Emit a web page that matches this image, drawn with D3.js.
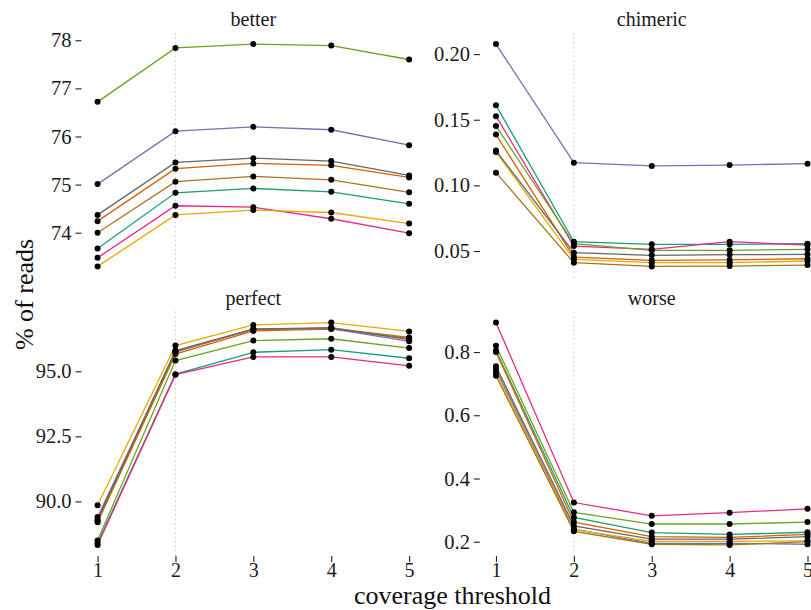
<!DOCTYPE html>
<html>
<head>
<meta charset="utf-8">
<script src="https://cdn.jsdelivr.net/npm/d3@7"></script>
<style>
html,body{margin:0;padding:0;background:#fff;overflow:hidden;}
svg{display:block;}
svg text{font-family:'Liberation Serif','Times New Roman',Times,'DejaVu Serif',serif !important;}
</style>
</head>
<body>
<svg id="chart" width="811" height="610"></svg>
<script>
const thresholds = [1, 2, 3, 4, 5];
const seriesNames = ["A", "B", "C", "D", "E", "F", "G", "H"];
const seriesColors = ["#1B9E77", "#D95F02", "#7570B3", "#E7298A", "#66A61E", "#E6AB02", "#A6761D", "#666666"];
const facetNames = ["better", "chimeric", "perfect", "worse"];

// values per series (order as seriesNames), per threshold 1..5
const betterValues = [
  [73.67, 74.83, 74.92, 74.85, 74.60],
  [74.24, 75.33, 75.44, 75.40, 75.15],
  [75.01, 76.11, 76.20, 76.14, 75.82],
  [73.48, 74.56, 74.53, 74.29, 73.99],
  [76.72, 77.84, 77.92, 77.89, 77.60],
  [73.30, 74.37, 74.47, 74.42, 74.19],
  [74.00, 75.06, 75.17, 75.10, 74.84],
  [74.37, 75.46, 75.55, 75.49, 75.19]
];
const chimericValues = [
  [0.1610, 0.0571, 0.0551, 0.0551, 0.0556],
  [0.1387, 0.0454, 0.0429, 0.0432, 0.0441],
  [0.2076, 0.1173, 0.1148, 0.1155, 0.1165],
  [0.1527, 0.0538, 0.0513, 0.0571, 0.0546],
  [0.1453, 0.0556, 0.0505, 0.0505, 0.0513],
  [0.1255, 0.0437, 0.0411, 0.0411, 0.0424],
  [0.1097, 0.0411, 0.0383, 0.0385, 0.0393],
  [0.1265, 0.0487, 0.0467, 0.0472, 0.0475]
];
const perfectValues = [
  [88.40, 94.89, 95.73, 95.83, 95.50],
  [89.20, 95.66, 96.55, 96.62, 96.27],
  [89.40, 95.74, 96.63, 96.64, 96.15],
  [88.33, 94.87, 95.55, 95.55, 95.21],
  [88.50, 95.41, 96.18, 96.25, 95.89],
  [89.85, 95.99, 96.78, 96.87, 96.53],
  [89.25, 95.77, 96.60, 96.66, 96.30],
  [89.30, 95.80, 96.62, 96.68, 96.22]
];
const worseValues = [
  [0.805, 0.277, 0.229, 0.223, 0.230],
  [0.800, 0.262, 0.216, 0.214, 0.223],
  [0.745, 0.240, 0.195, 0.195, 0.192],
  [0.893, 0.324, 0.282, 0.292, 0.304],
  [0.820, 0.293, 0.256, 0.256, 0.262],
  [0.735, 0.238, 0.201, 0.201, 0.203],
  [0.725, 0.233, 0.192, 0.190, 0.200],
  [0.755, 0.250, 0.208, 0.208, 0.216]
];
const betterTicks = [74, 75, 76, 77, 78];
const chimericTicks = [0.05, 0.10, 0.15, 0.20];
const perfectTicks = [90.0, 92.5, 95.0];
const worseTicks = [0.2, 0.4, 0.6, 0.8];
const markerX = 2;

const facetData = {better: betterValues, chimeric: chimericValues, perfect: perfectValues, worse: worseValues};
const facetTicks = {better: betterTicks, chimeric: chimericTicks, perfect: perfectTicks, worse: worseTicks};
const facetFormat = {better: d3.format("d"), chimeric: d3.format(".2f"), perfect: d3.format(".1f"), worse: d3.format(".1f")};

const FONT = "'Liberation Serif','Times New Roman',Times,'DejaVu Serif',serif";
const svg = d3.select("#chart");
const colLeft = [82, 480.4];
const panelW = 342.7;
const rowTop = [33, 311.5];
const panelH = 244.5;

const xDomain = (() => { const e = d3.extent(thresholds); const p = (e[1]-e[0])*0.05; return [e[0]-p, e[1]+p]; })();

facetNames.forEach((name, i) => {
  const col = i % 2, row = Math.floor(i / 2);
  const x0 = colLeft[col], y0 = rowTop[row];
  const g = svg.append("g").attr("transform", `translate(${x0},${y0})`);
  const vals = facetData[name];
  const all = vals.flat();
  const ext = d3.extent(all);
  const pad = (ext[1]-ext[0])*0.05;
  const x = d3.scaleLinear().domain(xDomain).range([0, panelW]);
  const y = d3.scaleLinear().domain([ext[0]-pad, ext[1]+pad]).range([panelH, 0]);

  // strip title
  g.append("text").attr("x", panelW/2).attr("y", -7).attr("text-anchor", "middle")
    .attr("font-family", FONT).attr("font-size", 20).attr("fill", "#1a1a1a").text(name);

  // dotted marker line
  g.append("line").attr("x1", x(markerX)).attr("x2", x(markerX)).attr("y1", 0).attr("y2", panelH)
    .attr("stroke", "#c8c8c8").attr("stroke-width", 1).attr("stroke-dasharray", "1.5,3");

  // y axis
  const yAxis = d3.axisLeft(y).tickValues(facetTicks[name]).tickFormat(facetFormat[name])
    .tickSizeInner(6).tickSizeOuter(0).tickPadding(4);
  const ya = g.append("g").attr("transform", "translate(-0.5,0)").call(yAxis).attr("font-family", FONT);
  ya.select(".domain").remove();
  ya.selectAll(".tick line").attr("stroke", "#222").attr("stroke-width", 1.1);
  ya.selectAll(".tick text").attr("font-size", 20.5).attr("fill", "#1a1a1a").attr("font-family", FONT);

  if (row === 1) {
    const xAxis = d3.axisBottom(x).tickValues(thresholds).tickFormat(d3.format("d"))
      .tickSizeInner(6).tickSizeOuter(0).tickPadding(1);
    const xa = g.append("g").attr("transform", `translate(0,${panelH})`).call(xAxis).attr("font-family", FONT);
    xa.select(".domain").remove();
    xa.selectAll(".tick line").attr("stroke", "#222").attr("stroke-width", 1.1);
    xa.selectAll(".tick text").attr("font-size", 20).attr("fill", "#1a1a1a").attr("font-family", FONT);
  }

  const line = d3.line().x((d, j) => x(thresholds[j])).y(d => y(d));
  vals.forEach((s, k) => {
    g.append("path").datum(s).attr("d", line).attr("fill", "none")
      .attr("stroke", seriesColors[k]).attr("stroke-width", 1.3);
  });
  vals.forEach((s, k) => {
    g.selectAll(null).data(s).enter().append("circle")
      .attr("cx", (d, j) => x(thresholds[j])).attr("cy", d => y(d)).attr("r", 3).attr("fill", "#000");
  });
});

// axis titles
svg.append("text").attr("x", (colLeft[0] + colLeft[1] + panelW) / 2).attr("y", 604)
  .attr("text-anchor", "middle").attr("font-family", FONT).attr("font-size", 26).attr("fill", "#111").text("coverage threshold");
svg.append("text").attr("transform", `translate(32.5,${(rowTop[0] + rowTop[1] + panelH) / 2}) rotate(-90)`)
  .attr("text-anchor", "middle").attr("font-family", FONT).attr("font-size", 26).attr("fill", "#111").text("% of reads");
</script>
</body>
</html>
